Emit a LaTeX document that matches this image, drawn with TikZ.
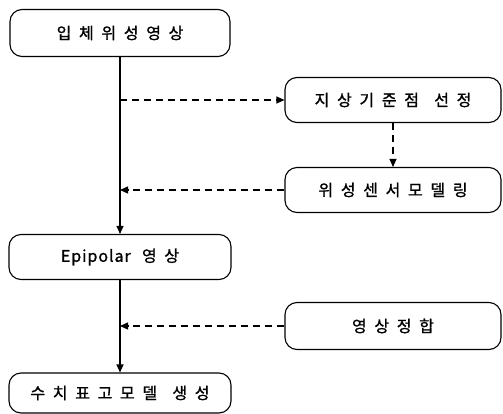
\documentclass[tikz,border=0pt]{standalone}
\usepackage{fontspec}
\setmainfont{Noto Sans CJK KR}[LetterSpace=48,FakeBold=1.2]
\newfontfamily\latinf{Noto Sans CJK KR}[LetterSpace=6,FakeBold=1.2]
\usetikzlibrary{arrows.meta}
\begin{document}
\begin{tikzpicture}[x=1pt,y=-1pt,
  box/.style={draw,line width=1.1pt,rounded corners=12pt,minimum width=216pt,minimum height=45pt,font=\fontsize{16}{18}\selectfont,inner sep=0pt},
  flow/.style={line width=1.1pt,-{Triangle[length=8pt,width=7pt]}},
  aux/.style={line width=1.1pt,dash pattern=on 7pt off 5pt,-{Triangle[length=8pt,width=7pt]}}]
\useasboundingbox (0,0) rectangle (503,414);
\node[box,minimum width=220pt,minimum height=47pt] (a) at (120,33) {입체위성영상};
\node[box] (b) at (393,100) {지상기준점\hspace{4pt} 선정};
\node[box] (c) at (393,190) {위성센서모델링};
\node[box,minimum width=222pt] (d) at (120,257) {{\latinf Epipolar} 영상};
\node[box,minimum height=47pt] (e) at (393,326) {영상정합};
\node[box,minimum width=222pt,minimum height=40pt] (f) at (120,393) {수치표고모델\hspace{4pt} 생성};
\coordinate (p1) at (120,100);
\coordinate (p2) at (120,190);
\coordinate (p3) at (120,326);
\draw[flow] (a) -- (d);
\draw[aux] (p1) -- (b.west |- p1);
\draw[aux] (c.west) -- (p2);
\draw[aux] (b.south) -- (c.north);
\draw[flow] (d) -- (f);
\draw[aux] (e.west) -- (p3);
\end{tikzpicture}
\end{document}
